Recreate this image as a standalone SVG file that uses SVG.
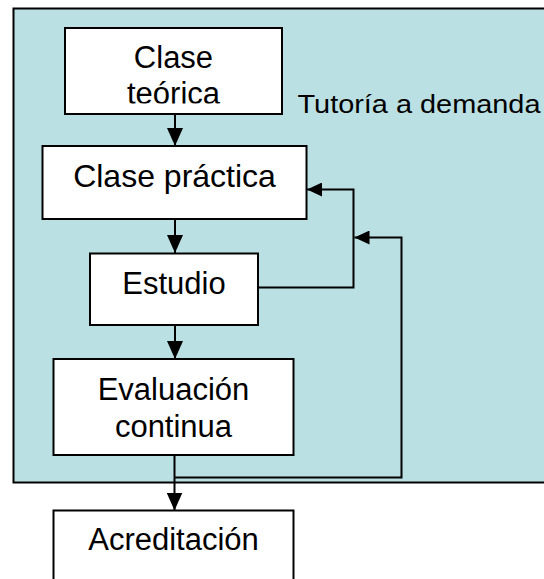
<svg xmlns="http://www.w3.org/2000/svg" width="544" height="579" viewBox="0 0 544 579">
<style>
.node rect{fill:#ffffff;stroke:#000000;stroke-width:2}
text{font-family:"Liberation Sans",Arial,sans-serif;fill:#000000;text-anchor:middle}
.t{font-size:31px}
.c path{fill:none;stroke:#000000;stroke-width:2}
</style>
<defs>
<marker id="ah" viewBox="0 0 18 16" refX="18" refY="8" markerWidth="18" markerHeight="16" markerUnits="userSpaceOnUse" orient="auto">
<path d="M0,0 L18,8 L0,16 Z" fill="#000000"/>
</marker>
<marker id="ahs" viewBox="0 0 15 14" refX="15" refY="7" markerWidth="15" markerHeight="14" markerUnits="userSpaceOnUse" orient="auto">
<path d="M0,0 L15,7 L0,14 Z" fill="#000000"/>
</marker>
<clipPath id="clipT"><rect x="60" y="25" width="230" height="78.5"/></clipPath>
</defs>
<g id="container">
<rect x="13.5" y="8.5" width="560" height="474" fill="#BBE0E3" stroke="#000000" stroke-width="2"/>
</g>
<g id="tutoria">
<text x="419" y="112.5" font-size="25" textLength="243" lengthAdjust="spacingAndGlyphs">Tutoría a demanda</text>
</g>
<g class="c" id="connectors">
<path d="M175,114 V146" marker-end="url(#ah)"/>
<path d="M175,219 V253" marker-end="url(#ah)"/>
<path d="M175,325 V359" marker-end="url(#ah)"/>
<path d="M174.5,455 V510.5" marker-end="url(#ah)"/>
<path d="M258,287.5 H353.5 V189.5 H307" marker-end="url(#ahs)"/>
<path d="M174,477.5 H401.5 V237.5 H354.5" marker-end="url(#ahs)"/>
</g>
<g class="node" id="clase-teorica">
<rect x="65" y="28" width="217" height="86"/>
<g clip-path="url(#clipT)">
<text class="t" x="173.5" y="68">Clase</text>
<text class="t" x="173.5" y="104">teórica</text>
</g>
</g>
<g class="node" id="clase-practica">
<rect x="42.5" y="146" width="264" height="73"/>
<text x="174.5" y="186.5" font-size="32">Clase práctica</text>
</g>
<g class="node" id="estudio">
<rect x="90" y="253.5" width="168" height="71.5"/>
<text x="174" y="293.5" font-size="31">Estudio</text>
</g>
<g class="node" id="evaluacion">
<rect x="53.5" y="359" width="240" height="96"/>
<text class="t" x="173.5" y="400">Evaluación</text>
<text class="t" x="173.5" y="436.5">continua</text>
</g>
<g class="node" id="acreditacion">
<rect x="53.5" y="510.5" width="240" height="90"/>
<text class="t" x="173.5" y="550">Acreditación</text>
</g>
</svg>
